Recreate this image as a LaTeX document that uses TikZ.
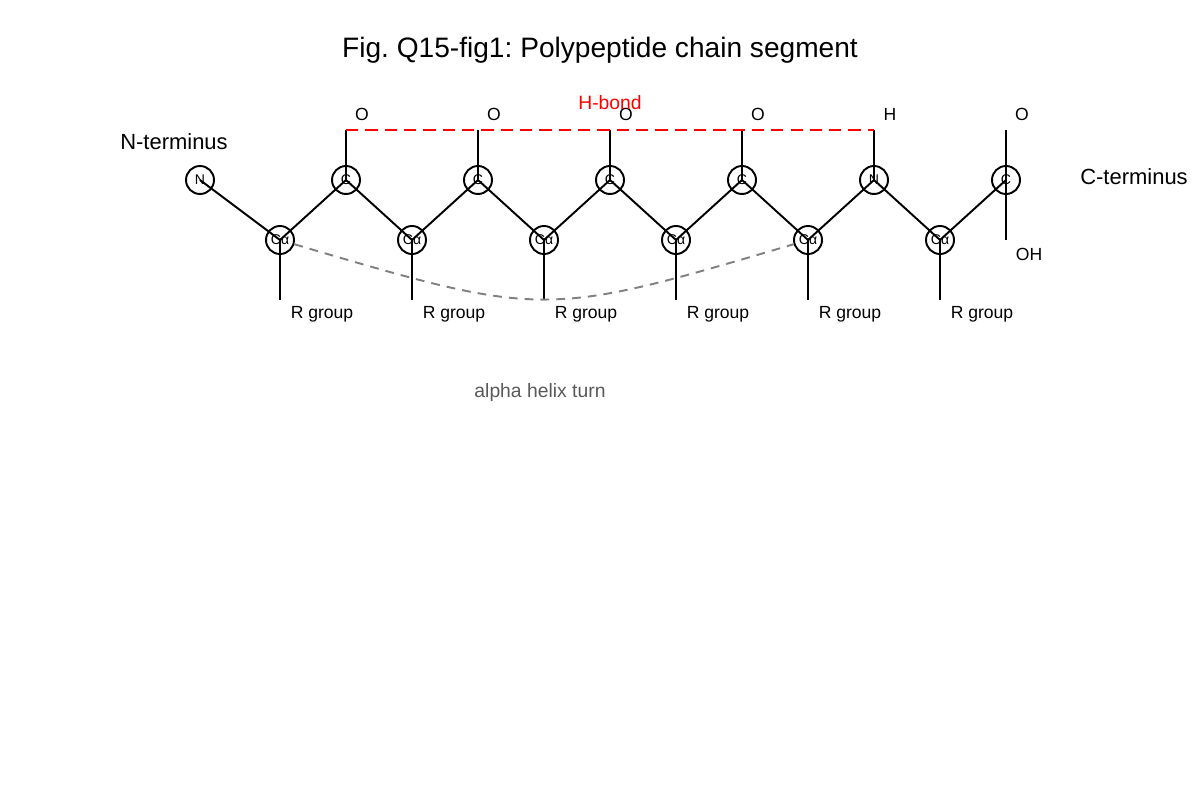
\documentclass[tikz,border=0pt]{standalone}
\usepackage{fontspec}
\setmainfont{Liberation Sans}
\frenchspacing
\begin{document}
\begin{tikzpicture}[x=0.02cm,y=-0.02cm,
  atom/.style={circle,draw,line width=1.1pt,minimum size=0.56cm,inner sep=0pt,font=\fontsize{8}{8}\selectfont},
  bond/.style={line width=1.1pt},
  lbl/.style={font=\fontsize{10}{12}\selectfont},
  big/.style={font=\fontsize{12.5}{14}\selectfont}]
\useasboundingbox (0,0) rectangle (1200,800);
\node[font=\fontsize{16}{18}\selectfont] (title) at (600,50) {Fig. Q15-fig1: Polypeptide chain segment};
\node[atom] (n0) at (200,180) {N};
\foreach \i in {1,...,6} \node[atom] (a\i) at ({280+132*(\i-1)},240) {Cα};
\foreach \i/\t in {1/C,2/C,3/C,4/C,5/N,6/C} \node[atom] (c\i) at ({346+132*(\i-1)},180) {\t};
\draw[bond] (n0.center) -- (a1.center);
\foreach \i in {1,...,6} {
  \draw[bond] (a\i.center) -- (c\i.center);
  \coordinate (up\i) at ({346+132*(\i-1)},130);
  \draw[bond] (c\i.center) -- (up\i);
  \coordinate (dn\i) at ({280+132*(\i-1)},300);
  \draw[bond] (a\i.center) -- (dn\i);
  \node[lbl] (r\i) at ({322+132*(\i-1)},314) {R group};
}
\foreach \i [evaluate=\i as \j using int(\i+1)] in {1,...,5} \draw[bond] (c\i.center) -- (a\j.center);
\coordinate (oh) at (1006,240);
\draw[bond] (c6.center) -- (oh);
\foreach \i/\t in {1/O,2/O,3/O,4/O,5/H,6/O} \node[lbl] (o\i) at ({362+132*(\i-1)},114) {\t};
\node[lbl] (ohl) at (1029,254) {OH};
\draw[red,line width=1.6pt,dash pattern=on 7pt off 4pt] (up1) -- (up5);
\node[text=red,font=\fontsize{11}{13}\selectfont] (hb) at (610,103) {H-bond};
\draw[gray,line width=1.1pt,dash pattern=on 5pt off 4pt] (a1) .. controls (544,318) .. (a5);
\node[big] (nt) at (174,142) {N-terminus};
\node[big] (ct) at (1134,177) {C-terminus};
\node[text=black!65,font=\fontsize{11}{13}\selectfont] (ah) at (540,393) {alpha helix turn};
\end{tikzpicture}
\end{document}
